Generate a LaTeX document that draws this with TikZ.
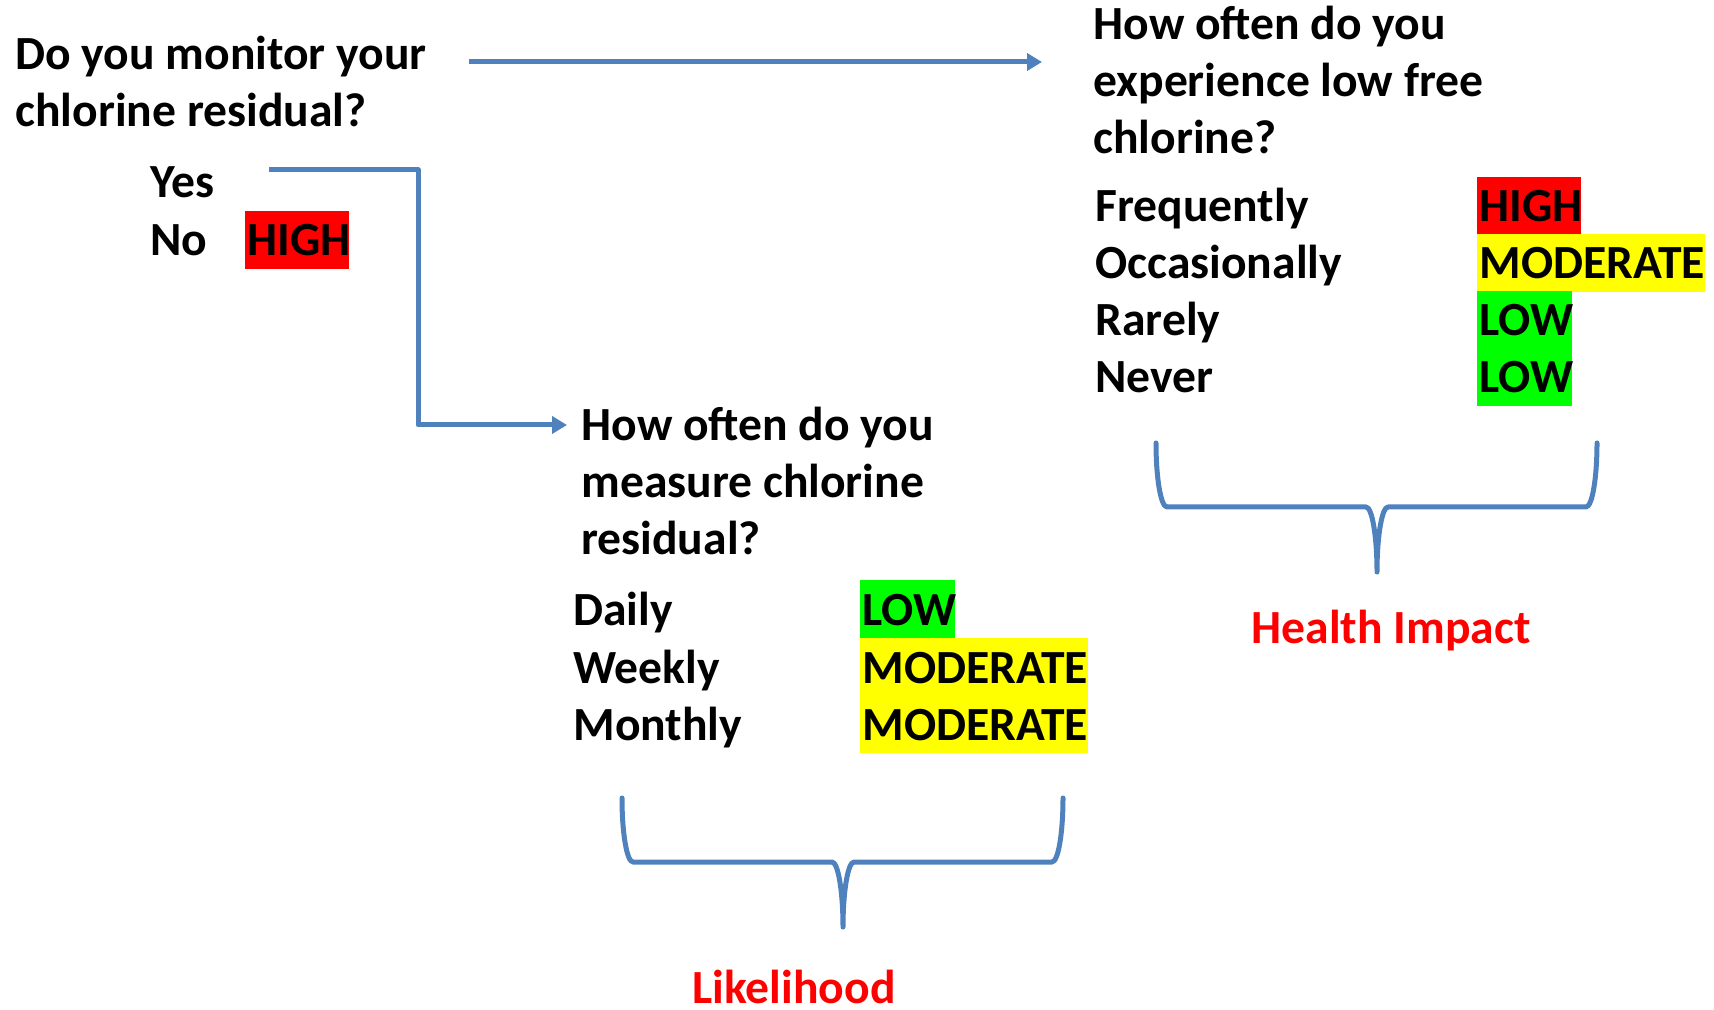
\documentclass[tikz,border=0pt]{standalone}
\usepackage{fontspec}
\setmainfont{Carlito}
\usetikzlibrary{arrows.meta}
\definecolor{lineblue}{RGB}{79,129,189}
\definecolor{hired}{RGB}{255,0,0}
\definecolor{hiyellow}{RGB}{255,255,0}
\definecolor{higreen}{RGB}{0,255,0}
\newcommand\stacklines[1]{\vtop{\baselineskip=28.5pt\lineskiplimit=-10pt\halign{##\hfil\cr#1\crcr}}}
\begin{document}
\begin{tikzpicture}[x=0.5pt,y=-0.5pt,
  every node/.style={font=\fontsize{23.8}{28.5}\selectfont\bfseries, inner sep=0pt},
  txt/.style={anchor=base west},
  hl/.style={anchor=base west, inner xsep=1pt, inner ysep=0pt, text height=22.5pt, text depth=6.5pt, align=left},
  conn/.style={draw=lineblue, line width=2.5pt, line join=round, -{Triangle[length=7.5pt,width=8.5pt]}},
  bracestyle/.style={draw=lineblue, line width=2.5pt, line cap=round, line join=round},
  result/.style={anchor=base, text=hired}]
\useasboundingbox (0,0) rectangle (1714,1010);

% first question
\node[txt] (q1) at (15,70) {\stacklines{Do you monitor your\cr chlorine residual?}};
\node[txt] (yes) at (150,198) {Yes};
\node[txt] (no) at (150,256) {No};
\node[hl, fill=hired, text width=50pt] (noh) at (245,256) {HIGH};

% second question
\node[txt] (q2) at (581,441) {\stacklines{How often do you\cr measure chlorine\cr residual?}};
\node[txt] (daily) at (573,625) {Daily};
\node[txt] (weekly) at (573,683) {Weekly};
\node[txt] (monthly) at (573,740) {Monthly};
\node[hl, fill=higreen, text width=45.5pt] (dailyr) at (860,625) {LOW};
\node[hl, fill=hiyellow, text width=112pt] (weeklyr) at (860,683) {MODERATE};
\node[hl, fill=hiyellow, text width=112pt] (monthlyr) at (860,740) {MODERATE};

% third question
\node[txt] (q3) at (1093,40) {\stacklines{How often do you\cr experience low free\cr chlorine?}};
\node[txt] (freq) at (1095,222) {Frequently};
\node[txt] (occ) at (1095,279) {Occasionally};
\node[txt] (rare) at (1095,336) {Rarely};
\node[txt] (never) at (1095,393) {Never};
\node[hl, fill=hired, text width=50pt] (freqr) at (1477,222) {HIGH};
\node[hl, fill=hiyellow, text width=112pt] (occr) at (1477,279) {MODERATE};
\node[hl, fill=higreen, text width=45.5pt] (rarer) at (1477,336) {LOW};
\node[hl, fill=higreen, text width=45.5pt] (neverr) at (1477,393) {LOW};

% labels
\node[result] (like) at (794,1003) {Likelihood};
\node[result] (health) at (1391,643) {Health Impact};

% connectors
\coordinate (a1s) at (469,62);
\coordinate (a1e) at (1042,62);
\draw[conn] (a1s) -- (a1e);
\coordinate (a2s) at (269,170);
\coordinate (a2e) at (567,425);
\draw[conn] (a2s) -| (418,425) -- (a2e);

% braces
\draw[bracestyle] (622,798) .. controls (622,833.6) and (626.9,862) .. (633,862)
  -- (832,862) .. controls (838.1,862) and (843,891.4) .. (843,927)
  .. controls (843,891.4) and (847.9,862) .. (854,862)
  -- (1052,862) .. controls (1058.1,862) and (1063,833.6) .. (1063,798);
\begin{scope}[shift={(534,-355)}]
\draw[bracestyle] (622,798) .. controls (622,833.6) and (626.9,862) .. (633,862)
  -- (832,862) .. controls (838.1,862) and (843,891.4) .. (843,927)
  .. controls (843,891.4) and (847.9,862) .. (854,862)
  -- (1052,862) .. controls (1058.1,862) and (1063,833.6) .. (1063,798);
\end{scope}
\end{tikzpicture}
\end{document}
